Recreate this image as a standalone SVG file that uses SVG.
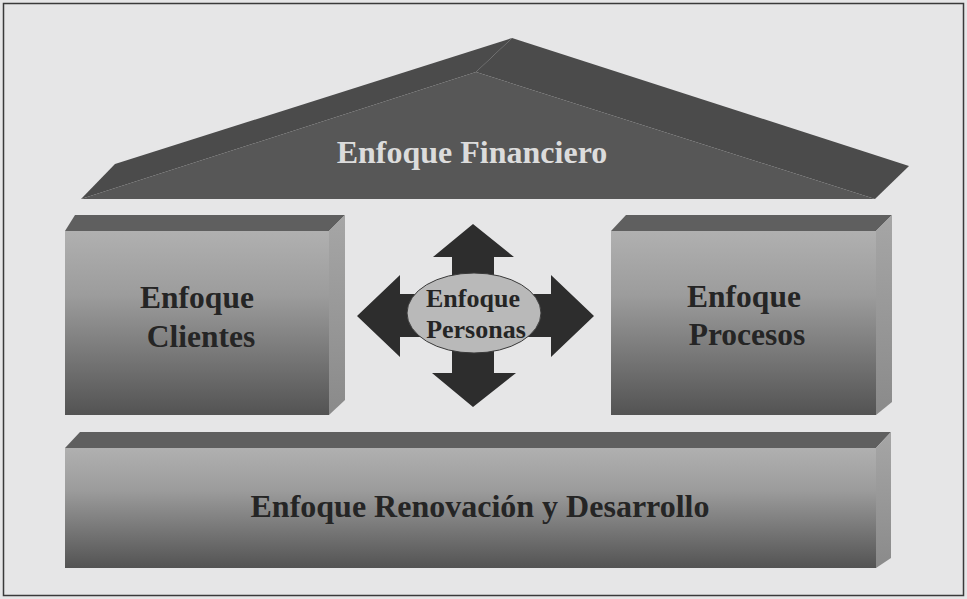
<svg xmlns="http://www.w3.org/2000/svg" width="967" height="599" viewBox="0 0 967 599">
  <defs>
    <linearGradient id="frontGrad" x1="0" y1="0" x2="0" y2="1">
      <stop offset="0" stop-color="#b0b0b0"/>
      <stop offset="0.35" stop-color="#9c9c9c"/>
      <stop offset="1" stop-color="#535353"/>
    </linearGradient>
    <linearGradient id="sideGrad" x1="0" y1="0" x2="0" y2="1">
      <stop offset="0" stop-color="#a6a6a6"/>
      <stop offset="1" stop-color="#8a8a8a"/>
    </linearGradient>
    <style>
      .label { font-family: "Liberation Serif", "Times New Roman", serif; font-weight: bold; text-anchor: middle; }
      .dark { fill: #252525; }
      .top { fill: #5f5f5f; }
      .side { fill: url(#sideGrad); }
      .front { fill: url(#frontGrad); }
    </style>
  </defs>

  <!-- page background and frame -->
  <rect x="0" y="0" width="967" height="599" fill="#e6e6e7"/>
  <rect x="3.5" y="3.5" width="960" height="592" fill="none" stroke="#3a3a3a" stroke-width="1.5"/>

  <!-- roof -->
  <g id="financiero">
    <polygon points="81,199 115,164 512,38 476,72" fill="#4b4b4b"/>
    <polygon points="476,72 512,38 909,166 875,199" fill="#4b4b4b"/>
    <polygon points="81,199 476,72 875,199" fill="#575757"/>
    <text class="label" x="472" y="163" font-size="32" fill="#dcdcdc">Enfoque Financiero</text>
  </g>

  <!-- left pillar -->
  <g id="clientes">
    <polygon class="top" points="65,231 75,215 345,215 329,231"/>
    <polygon class="side" points="329,231 345,215 345,400 329,415"/>
    <rect class="front" x="65" y="231" width="264" height="184"/>
    <text class="label dark" x="197" y="308" font-size="31.5">Enfoque</text>
    <text class="label dark" x="201" y="347" font-size="31.5">Clientes</text>
  </g>

  <!-- right pillar -->
  <g id="procesos">
    <polygon class="top" points="611,231 626,215 892,215 876,231"/>
    <polygon class="side" points="876,231 892,215 892,402 876,415"/>
    <rect class="front" x="611" y="231" width="265" height="184"/>
    <text class="label dark" x="744" y="307" font-size="31.5">Enfoque</text>
    <text class="label dark" x="747" y="345" font-size="31.5">Procesos</text>
  </g>

  <!-- base -->
  <g id="renovacion">
    <polygon class="top" points="65,448 80,432 891,432 876,448"/>
    <polygon class="side" points="876,448 891,432 891,558 876,568"/>
    <rect class="front" x="65" y="448" width="811" height="120"/>
    <text class="label dark" x="480" y="517" font-size="32">Enfoque Renovación y Desarrollo</text>
  </g>

  <!-- four-way arrow around the centre -->
  <g id="connectors">
    <polygon fill="#2d2d2d" points="473,224 514,257 494,257 494,294 551,294 551,275 594,316 551,357 551,337 494,337 494,373 516,373 473,407 432,373 452,373 452,337 400,337 400,357 357,316 400,275 400,294 452,294 452,257 433,257"/>
  </g>

  <!-- centre -->
  <g id="personas">
    <ellipse cx="474" cy="313" rx="67" ry="40" fill="#b9b9b9" stroke="#3a3a3a" stroke-width="1"/>
    <text class="label dark" x="473" y="307" font-size="26">Enfoque</text>
    <text class="label dark" x="476" y="338" font-size="26">Personas</text>
  </g>
</svg>
